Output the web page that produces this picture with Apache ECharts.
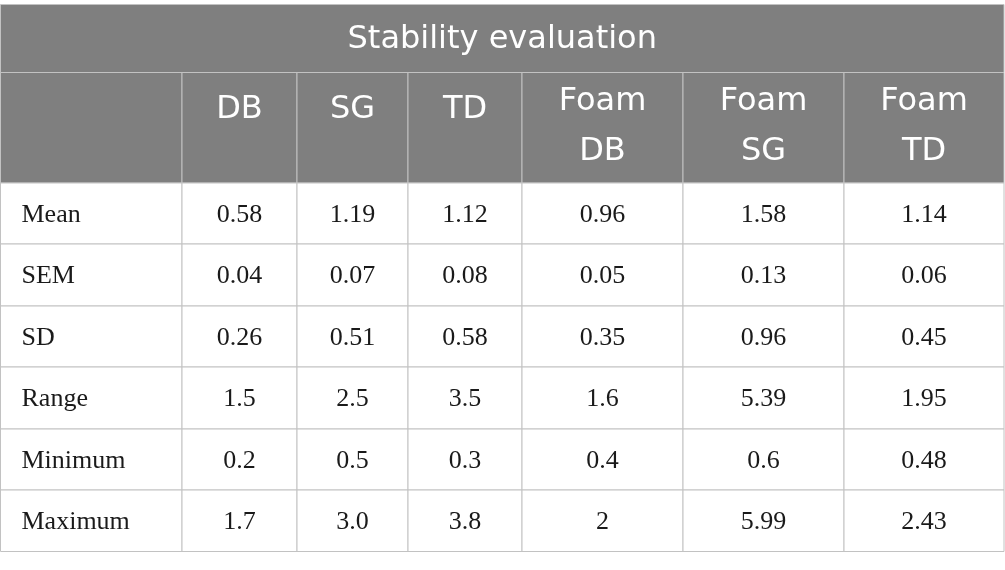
<!DOCTYPE html>
<html>
<head>
<meta charset="utf-8">
<script src="https://cdn.jsdelivr.net/npm/echarts@6/dist/echarts.min.js"></script>
<style>
html,body{margin:0;padding:0;background:#fff;}
#chart{width:1005px;height:570px;}
</style>
</head>
<body>
<div id="chart"></div>
<script>
// ---- data ----
const tableTitle = 'Stability evaluation';
const columnHeaders = ['DB', 'SG', 'TD', 'Foam\nDB', 'Foam\nSG', 'Foam\nTD'];
const rowLabels = ['Mean', 'SEM', 'SD', 'Range', 'Minimum', 'Maximum'];
const DB     = ['0.58', '0.04', '0.26', '1.5', '0.2', '1.7'];
const SG     = ['1.19', '0.07', '0.51', '2.5', '0.5', '3.0'];
const TD     = ['1.12', '0.08', '0.58', '3.5', '0.3', '3.8'];
const FoamDB = ['0.96', '0.05', '0.35', '1.6', '0.4', '2'];
const FoamSG = ['1.58', '0.13', '0.96', '5.39', '0.6', '5.99'];
const FoamTD = ['1.14', '0.06', '0.45', '1.95', '0.48', '2.43'];
const seriesColumns = [DB, SG, TD, FoamDB, FoamSG, FoamTD];

// ---- layout (pixel units of the hidden axes) ----
const colEdges = [0.5, 182, 297, 408, 522, 683, 844, 1004];
const rowEdges = [183, 244, 306, 367, 429, 490, 551.5];
const titleTop = 4.5, titleBottom = 72.5, headerBottom = 183;
const lineColor = '#c2c2c2';
const headFill = '#7f7f7f';
const sansFont = '"DejaVu Sans", "Open Sans", sans-serif';
const serifFont = '"Liberation Serif", "DejaVu Serif", serif';

// build items
const titleData = [[0, 0, tableTitle]];
const headerData = [[0, -1, '']].concat(columnHeaders.map((h, i) => [i + 1, -1, h]));
const bodyData = [];
rowLabels.forEach((lab, r) => {
  bodyData.push([0, r, lab]);
  seriesColumns.forEach((col, c) => bodyData.push([c + 1, r, col[r]]));
});

function rectFromEdges(api, x0, x1, y0, y1) {
  const p0 = api.coord([x0, y0]);
  const p1 = api.coord([x1, y1]);
  return { x: p0[0], y: p0[1], width: p1[0] - p0[0], height: p1[1] - p0[1] };
}

const chart = echarts.init(document.getElementById('chart'), null, { renderer: 'canvas' });
chart.setOption({
  animation: false,
  backgroundColor: '#ffffff',
  grid: { left: 0, right: 0, top: 0, bottom: 0, containLabel: false },
  xAxis: { type: 'value', min: 0, max: 1005, show: false },
  yAxis: { type: 'value', min: 0, max: 570, inverse: true, show: false },
  series: [
    {
      type: 'custom',
      name: 'title',
      data: titleData,
      renderItem: function (params, api) {
        const r = rectFromEdges(api, colEdges[0], colEdges[colEdges.length - 1], titleTop, titleBottom);
        return {
          type: 'group',
          children: [
            { type: 'rect', shape: r, style: { fill: headFill, stroke: lineColor, lineWidth: 1 } },
            { type: 'text', style: {
                text: titleData[params.dataIndex][2], x: r.x + r.width / 2, y: r.y + r.height / 2 + 1,
                align: 'center', verticalAlign: 'middle',
                font: '400 32px ' + sansFont, fill: '#ffffff' } }
          ]
        };
      }
    },
    {
      type: 'custom',
      name: 'header',
      data: headerData,
      renderItem: function (params, api) {
        const d = headerData[params.dataIndex];
        const c = d[0];
        const r = rectFromEdges(api, colEdges[c], colEdges[c + 1], titleBottom, headerBottom);
        const lines = d[2] ? d[2].split('\n') : [];
        const children = [{ type: 'rect', shape: r, style: { fill: headFill, stroke: lineColor, lineWidth: 1 } }];
        const centers = lines.length === 1 ? [37.5] : [29, 79];
        lines.forEach((t, i) => {
          children.push({ type: 'text', style: {
            text: t, x: r.x + r.width / 2, y: r.y + centers[i],
            align: 'center', verticalAlign: 'middle',
            font: '400 32px ' + sansFont, fill: '#ffffff' } });
        });
        return { type: 'group', children: children };
      }
    },
    {
      type: 'custom',
      name: 'body',
      data: bodyData,
      renderItem: function (params, api) {
        const d = bodyData[params.dataIndex];
        const c = d[0], row = d[1];
        const r = rectFromEdges(api, colEdges[c], colEdges[c + 1], rowEdges[row], rowEdges[row + 1]);
        const isLabel = c === 0;
        return {
          type: 'group',
          children: [
            { type: 'rect', shape: r, style: { fill: '#ffffff', stroke: lineColor, lineWidth: 1 } },
            { type: 'text', style: {
                text: d[2], x: isLabel ? r.x + 21 : r.x + r.width / 2, y: r.y + r.height / 2 + 1.5,
                align: isLabel ? 'left' : 'center', verticalAlign: 'middle',
                font: '400 26px ' + serifFont, fill: '#1a1a1a' } }
          ]
        };
      }
    }
  ]
});
</script>
</body>
</html>
